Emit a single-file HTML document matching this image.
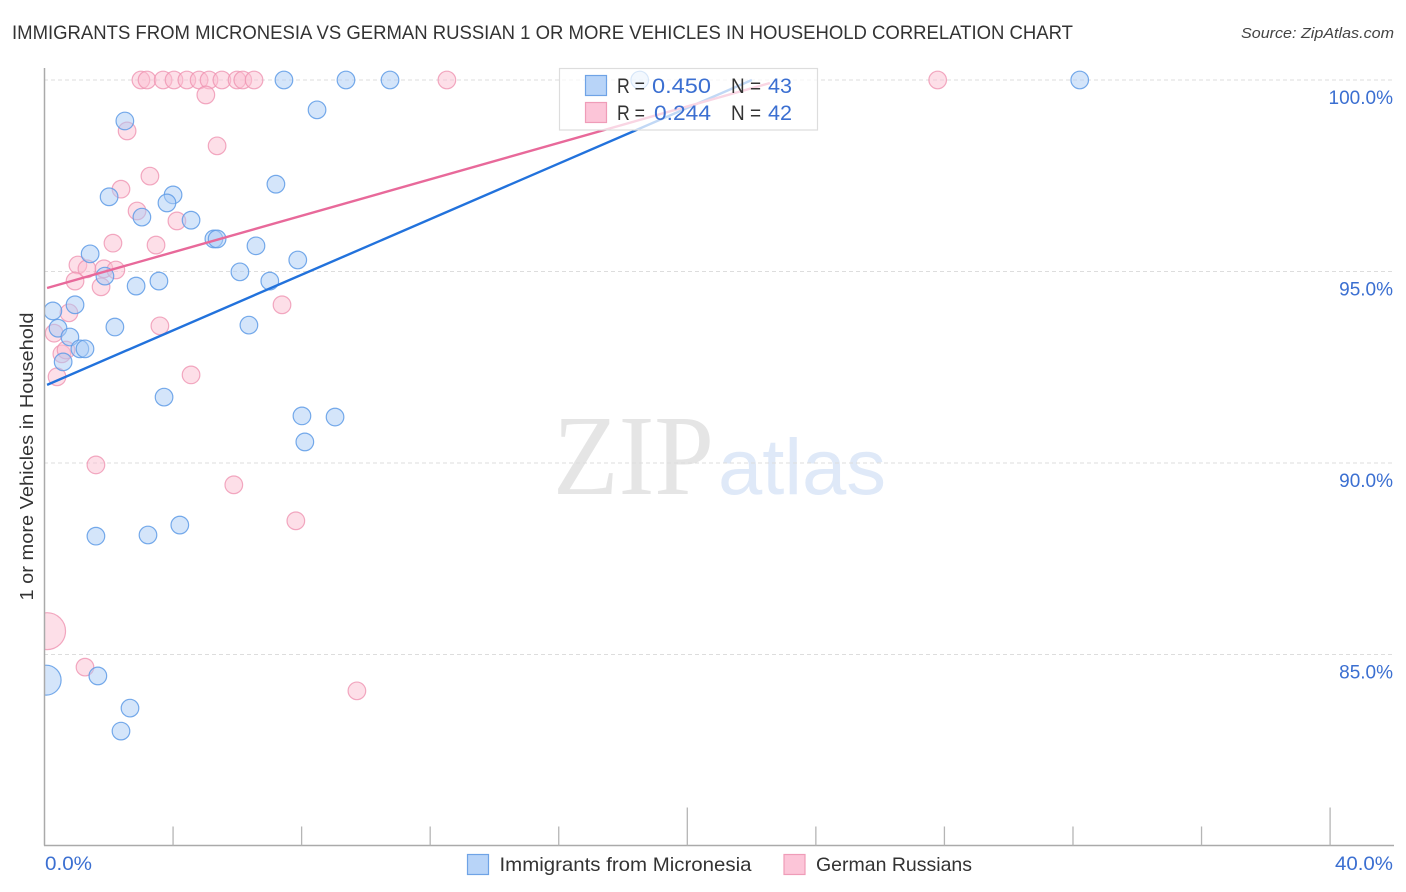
<!DOCTYPE html>
<html lang="en">
<head>
<meta charset="utf-8">
<title>Immigrants from Micronesia vs German Russian 1 or more Vehicles in Household</title>
<style>
html,body{margin:0;padding:0;background:#fff;width:1406px;height:892px;overflow:hidden}
svg{display:block;font-family:"Liberation Sans",sans-serif}
</style>
</head>
<body>
<svg id="chart" xmlns="http://www.w3.org/2000/svg" width="1406" height="892" viewBox="0 0 1406 892">
<rect width="1406" height="892" fill="#fff"/>
<text x="12" y="39" font-size="19" fill="#333" textLength="1061" lengthAdjust="spacingAndGlyphs">IMMIGRANTS FROM MICRONESIA VS GERMAN RUSSIAN 1 OR MORE VEHICLES IN HOUSEHOLD CORRELATION CHART</text>
<text x="1394" y="38" font-size="15" font-style="italic" fill="#444" text-anchor="end" textLength="153" lengthAdjust="spacingAndGlyphs">Source: ZipAtlas.com</text>
<g>
<text x="553" y="494" font-family="'Liberation Serif',serif" font-size="114" fill="#e5e5e5" textLength="161" lengthAdjust="spacingAndGlyphs">ZIP</text>
<text x="718" y="494" font-size="79" fill="#dfe9f8" textLength="168" lengthAdjust="spacingAndGlyphs">atlas</text>
</g>
<g id="grid"></g>
<g id="y-labels"></g>
<g id="points"></g>
<rect x="0" y="50" width="44" height="795" fill="#fff"/>
<g id="trends"></g>
<g id="axes">
<line x1="44.5" y1="68" x2="44.5" y2="845.5" stroke="#aaa" stroke-width="1.5"/>
<line x1="44" y1="845.5" x2="1394" y2="845.5" stroke="#aaa" stroke-width="1.5"/>
</g>
<text transform="translate(33 456.5) rotate(-90)" font-size="18.5" fill="#333" text-anchor="middle" textLength="288" lengthAdjust="spacingAndGlyphs">1 or more Vehicles in Household</text>
<text x="45" y="870" font-size="19" fill="#3b6fd1" textLength="47" lengthAdjust="spacingAndGlyphs">0.0%</text>
<text x="1393" y="870" font-size="19" fill="#3b6fd1" text-anchor="end" textLength="58" lengthAdjust="spacingAndGlyphs">40.0%</text>

<g>
<rect x="559.5" y="68.5" width="258" height="61.5" fill="#fff" fill-opacity="0.72" stroke="#ddd" stroke-width="1.2"/>
<rect x="585.5" y="75.5" width="21" height="20" fill="#b8d4f8" stroke="#6fa3e6" stroke-width="1.2"/>
<rect x="585.5" y="102.5" width="21" height="20" fill="#fcc5d8" stroke="#ef9cb8" stroke-width="1.2"/>
<g font-size="21">
<text x="617" y="93" fill="#333" textLength="28" lengthAdjust="spacingAndGlyphs">R =</text>
<text x="652" y="93" fill="#3b6fd1" textLength="59" lengthAdjust="spacingAndGlyphs">0.450</text>
<text x="731" y="93" fill="#333" textLength="30" lengthAdjust="spacingAndGlyphs">N =</text>
<text x="768" y="93" fill="#3b6fd1" textLength="24" lengthAdjust="spacingAndGlyphs">43</text>
<text x="617" y="120" fill="#333" textLength="28" lengthAdjust="spacingAndGlyphs">R =</text>
<text x="654" y="120" fill="#3b6fd1" textLength="57" lengthAdjust="spacingAndGlyphs">0.244</text>
<text x="731" y="120" fill="#333" textLength="30" lengthAdjust="spacingAndGlyphs">N =</text>
<text x="768" y="120" fill="#3b6fd1" textLength="24" lengthAdjust="spacingAndGlyphs">42</text>
</g>
</g>

<g>
<rect x="467.5" y="854.5" width="21" height="20" fill="#b8d4f8" stroke="#6fa3e6" stroke-width="1.2"/>
<text x="499.5" y="871" font-size="19.5" fill="#333" textLength="252" lengthAdjust="spacingAndGlyphs">Immigrants from Micronesia</text>
<rect x="784" y="854.5" width="21" height="20" fill="#fcc5d8" stroke="#ef9cb8" stroke-width="1.2"/>
<text x="816" y="871" font-size="19.5" fill="#333" textLength="156" lengthAdjust="spacingAndGlyphs">German Russians</text>
</g>
</svg>
<script>
const yTicks = [100, 95, 90, 85];
const yTickLabels = ["100.0%", "95.0%", "90.0%", "85.0%"];
const xTicks = [0, 4, 8, 12, 16, 20, 24, 28, 32, 36, 40];
const xMajorTicks = [0, 20, 40];

const micronesiaX = [32.21,18.52,10.75,9.38,7.45,8.48,2.50,7.20,2.01,4.00,3.81,3.03,4.56,5.27,5.37,6.58,1.42,7.88,6.08,3.56,7.01,1.88,2.85,0.95,0.26,0.42,2.19,6.36,0.79,1.10,1.26,0.58,3.72,8.01,9.04,8.10,1.60,3.22,4.21,0.05,1.66,2.66,2.38];
const micronesiaY = [100,100,100,100,100,99.22,98.93,97.28,96.95,97.00,96.79,96.42,96.34,95.85,95.85,95.67,95.46,95.30,94.99,94.75,94.75,94.88,94.62,94.13,93.97,93.52,93.55,93.60,93.29,92.98,92.98,92.64,91.72,91.23,91.20,90.55,88.09,88.12,88.38,84.33,84.44,83.60,83.00];
const micronesiaWeight = [1,1,1,1,1,1,1,1,1,1,1,1,1,1,1,1,1,1,1,1,1,1,1,1,1,1,1,1,1,1,1,1,1,1,1,1,1,1,1,2.9,1,1,1];

const germanX = [3.00,3.19,3.69,4.03,4.43,4.81,5.12,5.52,5.99,6.17,6.52,12.52,27.79,5.02,2.57,5.37,2.38,3.28,2.88,4.12,2.13,3.47,1.04,1.32,1.85,2.22,0.95,1.76,7.39,0.76,0.30,3.59,0.54,0.67,0.39,4.56,1.60,5.89,7.82,0.08,1.26,9.72];
const germanY = [100,100,100,100,100,100,100,100,100,100,100,100,100,99.61,98.67,98.28,97.15,97.49,96.58,96.32,95.74,95.69,95.17,95.07,95.07,95.04,94.75,94.60,94.13,93.92,93.39,93.58,92.85,92.95,92.25,92.30,89.95,89.43,88.49,85.61,84.67,84.05];
const germanWeight = [1,1,1,1,1,1,1,1,1,1,1,1,1,1,1,1,1,1,1,1,1,1,1,1,1,1,1,1,1,1,1,1,1,1,1,1,1,1,1,4.4,1,1];

const micronesiaTrendX = [0.08, 22.01];
const micronesiaTrendY = [92.04, 100];
const germanTrendX = [0.08, 22.57];
const germanTrendY = [94.57, 99.92];

const NS = "http://www.w3.org/2000/svg";
function xScale(v) { return 44.5 + v * 32.14; }
function yScale(v) { return 80 + (100 - v) * 38.3; }
function radius(w) { return 8.8 * Math.sqrt(w); }

const grid = document.getElementById("grid");
const yLabels = document.getElementById("y-labels");
yTicks.forEach(function (t, i) {
  const l = document.createElementNS(NS, "line");
  
  
  l.setAttribute("x1", 44);
  l.setAttribute("x2", 1394);
  l.setAttribute("y1", yScale(t));
  l.setAttribute("y2", yScale(t));
  l.setAttribute("stroke", "#ddd");
  l.setAttribute("stroke-width", "1");
  l.setAttribute("stroke-dasharray", "4 3");
  grid.appendChild(l);
  const s = document.createElementNS(NS, "text");
  
  
  s.setAttribute("x", 1393);
  s.setAttribute("y", yScale(t) + 24);
  s.setAttribute("font-size", "19");
  s.setAttribute("fill", "#3b6fd1");
  s.setAttribute("text-anchor", "end");
  s.textContent = yTickLabels[i];
  yLabels.appendChild(s);
});

const axes = document.getElementById("axes");
xTicks.forEach(function (t) {
  if (t === 0) return;
  const major = xMajorTicks.indexOf(t) >= 0;
  const l = document.createElementNS(NS, "line");
  
  
  l.setAttribute("x1", xScale(t));
  l.setAttribute("x2", xScale(t));
  l.setAttribute("y1", major ? 807.5 : 826.5);
  l.setAttribute("y2", 845.5);
  l.setAttribute("stroke", "#b5b5b5");
  l.setAttribute("stroke-width", "1.3");
  axes.appendChild(l);
});

const points = document.getElementById("points");
function drawMicronesia() {
  micronesiaX.forEach(function (x, i) {
    const c = document.createElementNS(NS, "circle");
    
    
    c.setAttribute("cx", xScale(x));
    c.setAttribute("cy", yScale(micronesiaY[i]));
    c.setAttribute("r", radius(micronesiaWeight[i]));
    c.setAttribute("fill", "#a9cbf6");
    c.setAttribute("fill-opacity", "0.5");
    c.setAttribute("stroke", "#5e9be6");
    c.setAttribute("stroke-opacity", "0.85");
    c.setAttribute("stroke-width", "1.2");
    points.appendChild(c);
  });
}
function drawGerman() {
  germanX.forEach(function (x, i) {
    const c = document.createElementNS(NS, "circle");
    
    
    c.setAttribute("cx", xScale(x));
    c.setAttribute("cy", yScale(germanY[i]));
    c.setAttribute("r", radius(germanWeight[i]));
    c.setAttribute("fill", "#fbbfd2");
    c.setAttribute("fill-opacity", "0.5");
    c.setAttribute("stroke", "#ef93b2");
    c.setAttribute("stroke-opacity", "0.8");
    c.setAttribute("stroke-width", "1.2");
    points.appendChild(c);
  });
}
drawGerman();
drawMicronesia();

const trends = document.getElementById("trends");
const blueTrend = document.createElementNS(NS, "line");


blueTrend.setAttribute("x1", xScale(micronesiaTrendX[0]));
blueTrend.setAttribute("y1", yScale(micronesiaTrendY[0]));
blueTrend.setAttribute("x2", xScale(micronesiaTrendX[1]));
blueTrend.setAttribute("y2", yScale(micronesiaTrendY[1]));
blueTrend.setAttribute("stroke", "#2272dc");
blueTrend.setAttribute("stroke-width", "2.4");
trends.appendChild(blueTrend);
const pinkTrend = document.createElementNS(NS, "line");


pinkTrend.setAttribute("x1", xScale(germanTrendX[0]));
pinkTrend.setAttribute("y1", yScale(germanTrendY[0]));
pinkTrend.setAttribute("x2", xScale(germanTrendX[1]));
pinkTrend.setAttribute("y2", yScale(germanTrendY[1]));
pinkTrend.setAttribute("stroke", "#e8699a");
pinkTrend.setAttribute("stroke-width", "2.4");
trends.appendChild(pinkTrend);
</script>
</body>
</html>
